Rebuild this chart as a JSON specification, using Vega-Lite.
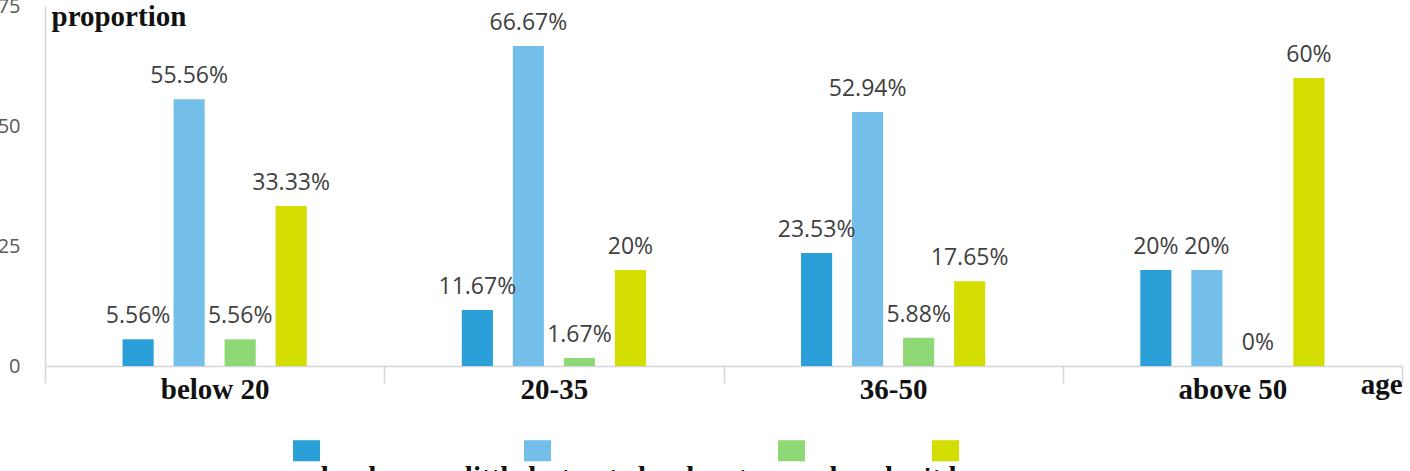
{
  "$schema": "https://vega.github.io/schema/vega-lite/v6.json",
  "width": 1357,
  "height": 360,
  "autosize": {"type": "none"},
  "padding": {"left": 45, "top": 6, "right": 8, "bottom": 105},
  "background": "white",
  "config": {"view": {"stroke": null}},
  "data": {
    "values": [
      {"age": "below 20", "level": "very clear", "value": 5.56, "label": "5.56%"},
      {"age": "below 20", "level": "know a little but not clearly", "value": 55.56, "label": "55.56%"},
      {"age": "below 20", "level": "not very clear", "value": 5.56, "label": "5.56%"},
      {"age": "below 20", "level": "don't know", "value": 33.33, "label": "33.33%"},
      {"age": "20-35", "level": "very clear", "value": 11.67, "label": "11.67%"},
      {"age": "20-35", "level": "know a little but not clearly", "value": 66.67, "label": "66.67%"},
      {"age": "20-35", "level": "not very clear", "value": 1.67, "label": "1.67%"},
      {"age": "20-35", "level": "don't know", "value": 20, "label": "20%"},
      {"age": "36-50", "level": "very clear", "value": 23.53, "label": "23.53%"},
      {"age": "36-50", "level": "know a little but not clearly", "value": 52.94, "label": "52.94%"},
      {"age": "36-50", "level": "not very clear", "value": 5.88, "label": "5.88%"},
      {"age": "36-50", "level": "don't know", "value": 17.65, "label": "17.65%"},
      {"age": "above 50", "level": "very clear", "value": 20, "label": "20%"},
      {"age": "above 50", "level": "know a little but not clearly", "value": 20, "label": "20%"},
      {"age": "above 50", "level": "not very clear", "value": 0, "label": "0%"},
      {"age": "above 50", "level": "don't know", "value": 60, "label": "60%"}
    ]
  },
  "encoding": {
    "x": {
      "field": "age",
      "type": "nominal",
      "sort": ["below 20", "20-35", "36-50", "above 50"],
      "scale": {"paddingInner": 0, "paddingOuter": 0},
      "axis": {
        "title": "age",
        "titleX": 1357,
        "titleY": 27,
        "titleAlign": "right",
        "titleBaseline": "alphabetic",
        "titleFont": "Liberation Serif",
        "titleFontSize": 29,
        "titleFontWeight": "bold",
        "titleColor": "#111111",
        "labelAngle": 0,
        "labelFont": "Liberation Serif",
        "labelFontSize": 29,
        "labelFontWeight": "bold",
        "labelColor": "#111111",
        "labelBaseline": "alphabetic",
        "labelPadding": 15,
        "tickSize": 17,
        "tickColor": "#d4d4dc",
        "tickWidth": 1.5,
        "tickBand": "extent",
        "domainColor": "#d4d4dc",
        "domainWidth": 1.5
      }
    },
    "xOffset": {
      "field": "level",
      "type": "nominal",
      "scale": {
        "domain": ["gap-left", "very clear", "know a little but not clearly", "not very clear", "don't know", "gap-right"],
        "paddingInner": 0.39,
        "paddingOuter": 0.52
      }
    },
    "y": {
      "field": "value",
      "type": "quantitative",
      "scale": {"domain": [0, 75]},
      "axis": {
        "title": "proportion",
        "titleAngle": 0,
        "titleAlign": "left",
        "titleBaseline": "alphabetic",
        "titleX": 6,
        "titleY": 19,
        "titleFont": "Liberation Serif",
        "titleFontSize": 29,
        "titleFontWeight": "bold",
        "titleColor": "#111111",
        "values": [0, 25, 50, 75],
        "grid": false,
        "ticks": false,
        "tickSize": 0,
        "labelPadding": 25,
        "labelFlush": false,
        "labelFont": "Open Sans",
        "labelFontSize": 20,
        "labelColor": "#595959",
        "domainColor": "#d4d4dc",
        "domainWidth": 1.5
      }
    }
  },
  "layer": [
    {
      "mark": {"type": "bar"},
      "encoding": {
        "color": {
          "field": "level",
          "type": "nominal",
          "sort": ["very clear", "know a little but not clearly", "not very clear", "don't know"],
          "scale": {
            "domain": ["very clear", "know a little but not clearly", "not very clear", "don't know"],
            "range": ["#2a9fd8", "#74bfea", "#8ed975", "#d4dd00"]
          },
          "legend": {
            "orient": "none",
            "legendX": 247,
            "legendY": 430,
            "direction": "horizontal",
            "title": null,
            "padding": 0,
            "symbolType": "M-1,-0.78H1V0.78H-1Z",
            "symbolSize": 729,
            "symbolStrokeWidth": 0,
            "symbolOpacity": 1,
            "labelFont": "Liberation Serif",
            "labelFontSize": 29,
            "labelFontWeight": "bold",
            "labelColor": "#111111",
            "labelAlign": "center",
            "labelBaseline": "top",
            "labelOffset": -13.5,
            "labelLimit": 1000,
            "columnPadding": -2,
            "encode": {"labels": {"update": {"dy": {"value": 13}}}}
          }
        }
      }
    },
    {
      "mark": {
        "type": "text",
        "dy": -16,
        "baseline": "alphabetic",
        "font": "Open Sans",
        "fontSize": 23,
        "color": "#404040"
      },
      "encoding": {"text": {"field": "label"}}
    }
  ]
}
